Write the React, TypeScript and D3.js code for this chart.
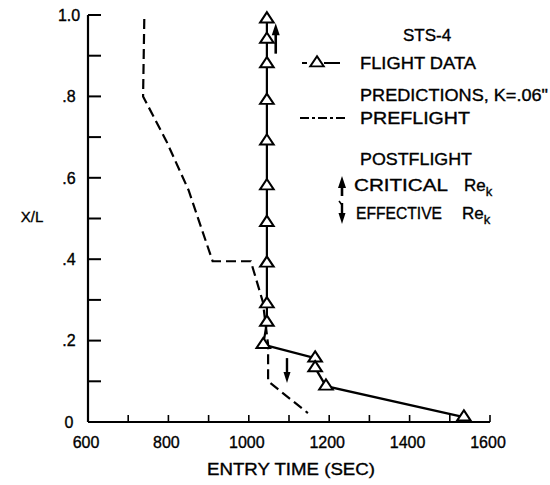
import React from "react";
import * as d3 from "d3";

// ---- data ----
const xTickValues = [600, 800, 1000, 1200, 1400, 1600];
const xTickLabels = ["600", "800", "1000", "1200", "1400", "1600"];
const xMinorTicks = [700, 800, 900, 1000, 1100, 1200, 1300, 1400, 1500, 1600];
const yTickValues = [0, 0.2, 0.4, 0.6, 0.8, 1.0];
const yTickLabels = ["0", ".2", ".4", ".6", ".8", "1.0"];
const yMinorTicks = [0.1, 0.2, 0.3, 0.4, 0.5, 0.6, 0.7, 0.8, 0.9, 1.0];

// flight data (STS-4)
const flightTime = [1045, 1045, 1045, 1045, 1045, 1045, 1045, 1045, 1045, 1045, 1036, 1165, 1165, 1192, 1535];
const flightXL = [0.99, 0.94, 0.88, 0.79, 0.69, 0.58, 0.49, 0.39, 0.29, 0.245, 0.19, 0.157, 0.133, 0.088, 0.012];

// preflight prediction
const preTime = [740, 737, 795, 850, 910, 1005, 1035, 1048, 1048, 1147];
const preXL = [0.99, 0.8, 0.69, 0.57, 0.395, 0.395, 0.295, 0.19, 0.1, 0.022];

// postflight arrows
const criticalTime = 1067;
const criticalFromTo = [0.905, 0.98];
const effectiveTime = 1095;
const effectiveFromTo = [0.157, 0.096];

const W = 550;
const H = 485;
const FONT = "'Liberation Sans', Arial, Helvetica, sans-serif";

export default function App() {
  const x = d3.scaleLinear().domain([600, 1600]).range([88, 490]);
  const y = d3.scaleLinear().domain([0, 1]).range([422, 15]);

  const line = d3
    .line<[number, number]>()
    .x((d) => x(d[0]))
    .y((d) => y(d[1]));

  const flightPts: [number, number][] = flightTime.map((t, i) => [t, flightXL[i]]);
  const prePts: [number, number][] = preTime.map((t, i) => [t, preXL[i]]);

  const tri = d3.symbol().type(d3.symbolTriangle).size(60)() as string;

  const arrowUp = (cx: number, y0: number, y1: number, key: string) => (
    <g key={key}>
      <line x1={cx} x2={cx} y1={y0} y2={y1 + 8} stroke="#000" strokeWidth={2.6} />
      <path d={`M${cx},${y1} L${cx - 4},${y1 + 12} L${cx + 4},${y1 + 12} Z`} fill="#000" />
    </g>
  );
  const arrowDown = (cx: number, y0: number, y1: number, key: string, hook = false) => (
    <g key={key}>
      <line x1={cx} x2={cx} y1={y0} y2={y1 - 8} stroke="#000" strokeWidth={2.4} />
      <path d={`M${cx},${y1} L${cx - 3.5},${y1 - 11} L${cx + 3.5},${y1 - 11} Z`} fill="#000" />
      {hook && (
        <path d={`M${cx},${y0 + 2} L${cx - 3},${y0 - 2}`} stroke="#000" strokeWidth={1.6} fill="none" />
      )}
    </g>
  );

  return (
    <svg
      width={W}
      height={H}
      style={{ position: "absolute", left: 0, top: 0, background: "#fff" }}
      fontFamily={FONT}
    >
      <rect width={W} height={H} fill="#fff" />

      {/* axes */}
      <line x1={x(600)} x2={x(600)} y1={y(1)} y2={y(0)} stroke="#000" strokeWidth={2.2} />
      <line x1={x(600)} x2={x(1600)} y1={y(0)} y2={y(0)} stroke="#000" strokeWidth={2.2} />

      {/* y ticks (inward) */}
      {yMinorTicks.map((v) => (
        <line key={"yt" + v} x1={x(600)} x2={x(600) + 13} y1={y(v)} y2={y(v)} stroke="#000" strokeWidth={2} />
      ))}
      {/* x ticks (inward) */}
      {xMinorTicks.map((v) => (
        <line key={"xt" + v} x1={x(v)} x2={x(v)} y1={y(0)} y2={y(0) - 7} stroke="#000" strokeWidth={1.6} />
      ))}

      <g stroke="#000" strokeWidth={0.35}>
        {/* y tick labels */}
        {yTickValues.map((v, i) => (
          <text key={"yl" + v} x={69} y={y(v)} dy="0.36em" textAnchor="middle" fontSize={16}>
            {yTickLabels[i]}
          </text>
        ))}
        {/* x tick labels */}
        {xTickValues.map((v, i) => (
          <text key={"xl" + v} x={x(v) - 2} y={448} textAnchor="middle" fontSize={16}>
            {xTickLabels[i]}
          </text>
        ))}

        <text x={291} y={475} textAnchor="middle" fontSize={16} textLength={168} lengthAdjust="spacingAndGlyphs">
          ENTRY TIME (SEC)
        </text>
        <text x={32} y={217} dy="0.36em" textAnchor="middle" fontSize={15}>
          X/L
        </text>
      </g>

      {/* preflight dashed prediction */}
      <path d={line(prePts) as string} fill="none" stroke="#000" strokeWidth={2.2} strokeDasharray="10,5" />

      {/* flight data line + markers */}
      <path d={line(flightPts) as string} fill="none" stroke="#000" strokeWidth={2.2} />
      {flightPts.map((p, i) => (
        <path
          key={"tri" + i}
          d={tri}
          transform={`translate(${x(p[0])},${y(p[1])}) scale(1.15,1)`}
          fill="#fff"
          stroke="#000"
          strokeWidth={1.9}
        />
      ))}

      {/* postflight arrows */}
      {arrowUp(x(criticalTime), y(criticalFromTo[0]), y(criticalFromTo[1]), "crit")}
      {arrowDown(x(effectiveTime), y(effectiveFromTo[0]), y(effectiveFromTo[1]), "eff")}

      {/* legend */}
      <g fontSize={17}>
        <g stroke="#000" strokeWidth={0.35}>
          <text x={427} y={41} textAnchor="middle">STS-4</text>
          <text x={360} y={69} textLength={116} lengthAdjust="spacingAndGlyphs">FLIGHT DATA</text>
          <text x={360} y={101} textLength={188} lengthAdjust="spacingAndGlyphs">PREDICTIONS, K=.06"</text>
          <text x={360} y={124} textLength={110} lengthAdjust="spacingAndGlyphs">PREFLIGHT</text>
          <text x={360} y={165} textLength={112} lengthAdjust="spacingAndGlyphs">POSTFLIGHT</text>
          <text x={354} y={191} textLength={94} lengthAdjust="spacingAndGlyphs">CRITICAL</text>
          <text x={464} y={191}>
            Re<tspan fontSize={13} dy={5}>k</tspan>
          </text>
          <text x={356} y={219} textLength={86} lengthAdjust="spacingAndGlyphs">EFFECTIVE</text>
          <text x={462} y={219}>
            Re<tspan fontSize={13} dy={5}>k</tspan>
          </text>
        </g>

        <line x1={302} x2={307} y1={63} y2={63} stroke="#000" strokeWidth={2} />
        <path d={tri} transform="translate(317,63) scale(1.15,1)" fill="#fff" stroke="#000" strokeWidth={1.8} />
        <line x1={324} x2={340} y1={63} y2={63} stroke="#000" strokeWidth={2} />

        <line x1={300} x2={345} y1={118} y2={118} stroke="#000" strokeWidth={2} strokeDasharray="9,3,3,3" />

        {arrowUp(342, 196, 176, "lcrit")}
        {arrowDown(342, 203, 224, "leff", true)}
      </g>
    </svg>
  );
}
